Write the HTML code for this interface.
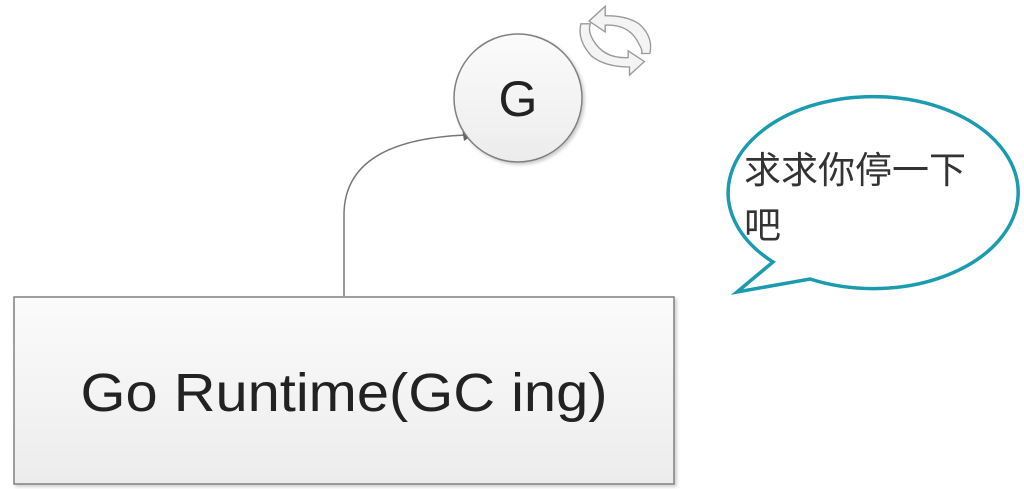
<!DOCTYPE html>
<html><head><meta charset="utf-8"><style>
html,body{margin:0;padding:0;background:#fff;width:1024px;height:489px;overflow:hidden}
</style></head><body>
<svg width="1024" height="489" viewBox="0 0 1024 489" xmlns="http://www.w3.org/2000/svg">
<defs>
<linearGradient id="bg" x1="0" y1="0" x2="0" y2="1"><stop offset="0" stop-color="#fbfbfb"/><stop offset="1" stop-color="#ececec"/></linearGradient>
<filter id="sh" x="-10%" y="-10%" width="130%" height="130%"><feDropShadow dx="2" dy="2" stdDeviation="1.5" flood-color="#000" flood-opacity="0.2"/></filter>
</defs>
<rect x="14" y="297" width="660" height="187" fill="url(#bg)" stroke="#808080" stroke-width="1.5" filter="url(#sh)"/>
<text x="344" y="411" font-family="Liberation Sans, sans-serif" font-size="54" fill="#222" text-anchor="middle" textLength="527" lengthAdjust="spacingAndGlyphs">Go Runtime(GC ing)</text>
<path d="M344 296 L344 215 Q344 140 466 135" fill="none" stroke="#777" stroke-width="1.5"/>
<polygon points="474,134 462,128 464,141" fill="#666"/>
<circle cx="518" cy="98" r="64" fill="url(#bg)" stroke="#808080" stroke-width="1.5" filter="url(#sh)"/>
<text x="518" y="116" font-family="Liberation Sans, sans-serif" font-size="50" fill="#222" text-anchor="middle">G</text>
<g fill="#f4f4f4" stroke="#999" stroke-width="1" transform="translate(616,40) scale(1.35) translate(-620,-42)">
<path d="M612 17 L600 28 L612 36 L612 31 Q630 30 637 45 Q640 50 639 52 L645 52 Q648 40 637 30 Q628 24 612 24 Z"/>
<path d="M630 68 L641 58 L629 50 L629 55 Q611 56 603 42 Q599 35 601 30 L594 30 Q591 42 602 54 Q612 62 630 62 Z"/>
</g>
<path d="M810 279 A145 96 0 1 0 773 262 L737 292 Z" fill="#fff" stroke="#1a9bb0" stroke-width="3.5" stroke-linejoin="miter"/>
<text font-family="Liberation Sans, 'Noto Sans CJK SC', sans-serif" font-size="37" fill="#333"><tspan x="744" y="183">求求你停一下</tspan><tspan x="744" y="238">吧</tspan></text>
</svg>
</body></html>
